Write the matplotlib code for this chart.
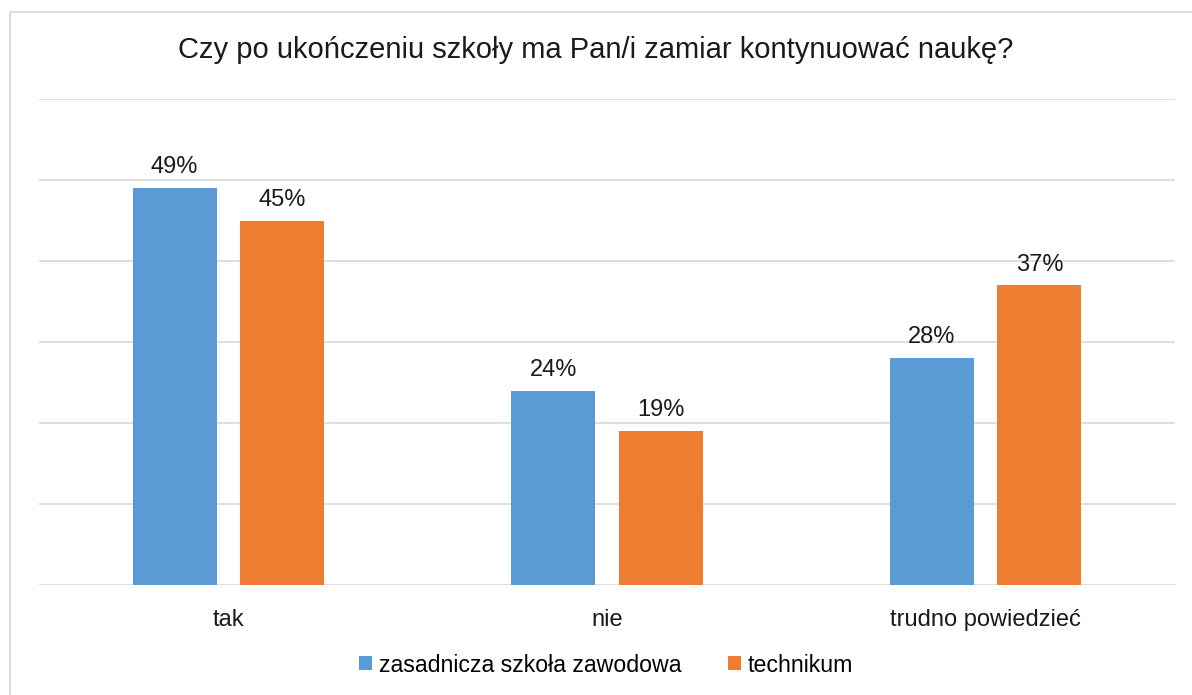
import numpy as np
import matplotlib.pyplot as plt
from matplotlib.patches import Rectangle

plt.rcParams['font.family'] = ['Liberation Sans', 'DejaVu Sans']

categories = ["tak", "nie", "trudno powiedzieć"]
zsz = [49, 24, 28]
tech = [45, 19, 37]
series_names = ["zasadnicza szkoła zawodowa", "technikum"]

blue = "#5b9bd5"
orange = "#ed7d31"

fig = plt.figure(figsize=(11.92, 6.95), dpi=100)
fig.patches.append(Rectangle((10/1192, -0.1), 1.2, 1 - 12/695 + 0.1, transform=fig.transFigure,
                             fill=False, edgecolor="#d9d9d9", linewidth=1.2))
ax = fig.add_axes([39/1192, 1 - 585/695, (1175 - 39)/1192, (585 - 99)/695])

x = np.arange(len(categories))
w = 0.222
off = 0.142
b1 = ax.bar(x - off, zsz, w, color=blue, label=series_names[0], zorder=3)
b2 = ax.bar(x + off, tech, w, color=orange, label=series_names[1], zorder=3)

for bars, vals in ((b1, zsz), (b2, tech)):
    for r, v in zip(bars, vals):
        ax.text(r.get_x() + r.get_width() / 2, v + 1.2, f"{v}%", ha="center", va="bottom",
                fontsize=17, color="#1a1a1a")

ax.set_xlim(-0.5, 2.5)
ax.set_ylim(0, 60)
ax.set_yticks(np.arange(0, 61, 10))
ax.yaxis.grid(True, color="#d9d9d9", linewidth=1.2, zorder=0)
ax.tick_params(axis="y", left=False, labelleft=False)
ax.tick_params(axis="x", bottom=False, pad=14, labelsize=17, labelcolor="#1a1a1a")
ax.set_xticks(x)
ax.set_xticklabels(categories)
for s in ax.spines.values():
    s.set_visible(False)

fig.text(0.5, 1 - 50/695, "Czy po ukończeniu szkoły ma Pan/i zamiar kontynuować naukę?",
         ha="center", va="center", fontsize=21, color="#1a1a1a")

fig.legend(handles=[b1, b2], loc="center", bbox_to_anchor=(0.5085, 1 - 665/695), ncol=2,
           frameon=False, fontsize=16.7, handlelength=0.55, handleheight=0.55,
           handletextpad=0.3, columnspacing=2.0)

fig.savefig("out.png", dpi=100)
